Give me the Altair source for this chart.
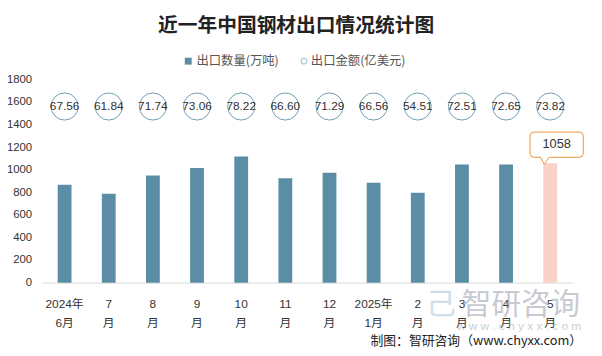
import altair as alt
import pandas as pd

# ---- data ----
months = ["2024年|6月", "7|月", "8|月", "9|月", "10|月", "11|月", "12|月",
          "2025年|1月", "2|月", "3|月", "4|月", "5|月"]
volume = [866.7, 787.6, 949.3, 1015.6, 1118.2, 925.5, 972.8, 884, 796, 1045.6, 1046.1, 1058]
amount = [67.56, 61.84, 71.74, 73.06, 78.22, 66.60, 71.29, 66.56, 54.51, 72.51, 72.65, 73.82]
kind = ["past"] * 11 + ["latest"]
y_ticks = [0, 200, 400, 600, 800, 1000, 1200, 1400, 1600, 1800]

title_text = "近一年中国钢材出口情况统计图"
legend_bar = "出口数量(万吨)"
legend_circle = "出口金额(亿美元)"
source_text = "制图：智研咨询（www.chyxx.com）"

df = pd.DataFrame({"month": months, "volume": volume, "amount": amount, "kind": kind})
last = df.tail(1)
one = pd.DataFrame({"a": [0]})

W, H = 537, 206
BAR = "#5b8ea6"
NUMFONT = "Liberation Sans"
CJK = "Noto Sans CJK SC"

x_axis = alt.Axis(labelAngle=0, ticks=False, domainColor="#d9d9d9",
                  labelExpr="split(datum.label, '|')", labelLineHeight=19,
                  labelPadding=16, labelFontSize=12, labelColor="#333333",
                  labelFont=NUMFONT + ", " + CJK, labelOverlap=False)
y_axis = alt.Axis(values=y_ticks, format="d", labelOverlap=False, labelFlush=False,
                  grid=False, domain=False, ticks=False,
                  labelPadding=11, labelFontSize=11.5, labelColor="#333333",
                  labelFont=NUMFONT)
x_enc = alt.X("month:N", sort=months, title=None,
              scale=alt.Scale(paddingInner=0, paddingOuter=0), axis=x_axis)
x_plain = alt.X("month:N", sort=months, title=None, axis=x_axis)
y_scale = alt.Scale(domain=[0, 1800], nice=False)

bars = alt.Chart(df).mark_bar(size=14).encode(
    x=x_enc,
    y=alt.Y("volume:Q", scale=y_scale, title=None, axis=y_axis),
    color=alt.Color("kind:N", legend=None,
                    scale=alt.Scale(domain=["past", "latest"], range=[BAR, "#f8d1c8"])),
)

circles = alt.Chart(df).mark_point(shape="circle", size=755, filled=True, fill="white",
                                   stroke="#6f9db3", strokeWidth=1, opacity=1).encode(
    x=x_plain, y=alt.datum(1560, axis=y_axis)
)
circle_text = alt.Chart(df).mark_text(fontSize=12, font=NUMFONT, color="#333333").encode(
    x=x_plain, y=alt.datum(1560, axis=y_axis),
    text=alt.Text("amount:Q", format=".2f")
)

callout_path = ("M -16.5 -31.5 L 29.5 -31.5 Q 33.5 -31.5 33.5 -27.5 L 33.5 -10 "
                "Q 33.5 -6 29.5 -6 L -1 -6 L -6 1 L -10 -6 L -16.5 -6 "
                "Q -20.5 -6 -20.5 -10 L -20.5 -27.5 Q -20.5 -31.5 -16.5 -31.5 Z")
callout = alt.Chart(last).mark_point(shape=callout_path, size=4, filled=True, fill="white",
                                      stroke="#e8923a", strokeWidth=1, opacity=1).encode(
    x=x_plain, y=alt.Y("volume:Q", title=None, axis=y_axis)
)
callout_text = alt.Chart(last).mark_text(fontSize=13, font=NUMFONT, color="#333333",
                                          dx=6.5, dy=-19).encode(
    x=x_plain, y=alt.Y("volume:Q", title=None, axis=y_axis),
    text=alt.Text("volume:Q", format="d")
)

# ---- decorations: title, legend, watermark, source ----
title = alt.Chart(one).mark_text(text=title_text, fontSize=20, fontWeight="bold", font=CJK,
                                 color="#222222").encode(x=alt.value(257), y=alt.value(-54))
leg_sq = alt.Chart(one).mark_square(size=49, color=BAR, opacity=1).encode(
    x=alt.value(147.7), y=alt.value(-18.5))
leg_sq_t = alt.Chart(one).mark_text(text=legend_bar, fontSize=12.5, font=CJK, align="left",
                                    color="#555555").encode(x=alt.value(156), y=alt.value(-18.5))
leg_ci = alt.Chart(one).mark_point(shape="circle", size=36, stroke="#8fb5c8", strokeWidth=1,
                                   opacity=1).encode(x=alt.value(265), y=alt.value(-18.5))
leg_ci_t = alt.Chart(one).mark_text(text=legend_circle, fontSize=12.5, font=CJK, align="left",
                                    color="#555555").encode(x=alt.value(272), y=alt.value(-18.5))
wm1 = alt.Chart(one).mark_text(text="智研咨询", fontSize=30, font=CJK, align="right",
                               color="#9aa0aa", opacity=0.55).encode(x=alt.value(545), y=alt.value(229))
wm2 = alt.Chart(one).mark_text(text="w w w . c h y x x . c o m", fontSize=12, font=NUMFONT,
                               align="right", color="#9aa0aa", opacity=0.5).encode(
    x=alt.value(546), y=alt.value(250))
wm_logo = alt.Chart(one).mark_text(text="己", fontSize=30, font=CJK, color="#a9c4dc",
                                   opacity=0.55).encode(x=alt.value(404), y=alt.value(229))
source = alt.Chart(one).mark_text(text=source_text, fontSize=13, font=CJK, align="right",
                                  color="#222222").encode(x=alt.value(547), y=alt.value(265))

chart = alt.layer(
    bars, circles, circle_text, callout, callout_text,
    title, leg_sq, leg_sq_t, leg_ci, leg_ci_t, wm_logo, wm1, wm2, source
).properties(
    width=W, height=H,
    autosize=alt.AutoSizeParams(type="none"),
    padding={"left": 35, "top": 70, "right": 22, "bottom": 72},
    background="white",
).configure_view(stroke=None).configure_axis(labelOverlap=False)

chart.save("out.html", embed_options={"renderer": "svg", "actions": False})
